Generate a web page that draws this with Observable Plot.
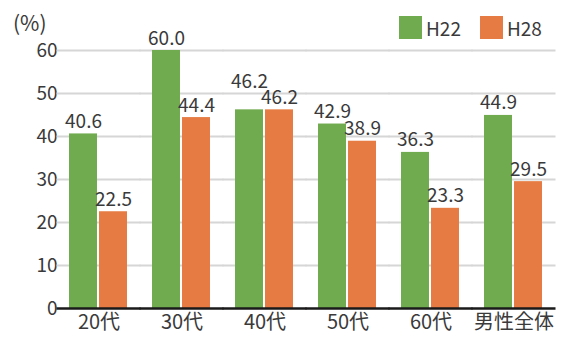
<!DOCTYPE html>
<html><head><meta charset="utf-8">
<script src="https://cdn.jsdelivr.net/npm/d3@7"></script>
<script src="https://cdn.jsdelivr.net/npm/@observablehq/plot@0.6"></script>
<style>
body{margin:0;background:#fff;}
#wrap{position:relative;width:561px;height:338px;}
.overlay{position:absolute;font-family:"Noto Sans CJK JP",sans-serif;font-size:19px;color:#3a3a3a;line-height:1;}
#legend{top:16px;left:399px;display:flex;align-items:center;}
#legend .sw{display:inline-block;width:23px;height:23px;margin-right:4px;}
#legend .lb{margin-right:19px;}
#ylabel{top:12px;left:13px;font-size:21px;}
</style></head>
<body><div id="wrap"></div>
<script>
const categories = ["20代","30代","40代","50代","60代","男性全体"];
const series = ["H22","H28"];
const h22 = [40.6, 60.0, 46.2, 42.9, 36.3, 44.9];
const h28 = [22.5, 44.4, 46.2, 38.9, 23.3, 29.5];
const yTicks = [0, 10, 20, 30, 40, 50, 60];
const colors = ["#71AB4F", "#E67C43"];
const yLabel = "(%)";

const data = categories.flatMap((c, i) => [
  {category: c, series: series[0], value: h22[i], lift: Math.abs(h22[i] - h28[i]) < 3},
  {category: c, series: series[1], value: h28[i], lift: false}
]);

const font = '"Noto Sans CJK JP",sans-serif';
const ext = -12.5; // extend per-facet rules over the gaps between groups
const label = d => d.value.toFixed(1);
const plot = Plot.plot({
  width: 561, height: 338,
  marginLeft: 55, marginRight: 3, marginTop: 50, marginBottom: 30,
  style: {fontFamily: font, fontSize: "19px", color: "#3a3a3a", background: "white", overflow: "visible"},
  fx: {domain: categories, paddingInner: 0.2857, paddingOuter: 0.1429, label: null, axis: "bottom", tickSize: 0, tickPadding: 6},
  x: {domain: series, axis: null, paddingInner: 0.065, paddingOuter: 0},
  y: {domain: [0, 60], ticks: yTicks, label: null, tickSize: 0, tickPadding: 12, tickFormat: d => d},
  color: {domain: series, range: colors},
  marks: [
    Plot.ruleY(yTicks.filter(d => d > 0), {stroke: "#d6d6d6", strokeWidth: 2, insetLeft: ext, insetRight: ext}),
    Plot.barY(data, {fx: "category", x: "series", y: "value", fill: "series"}),
    Plot.text(data.filter(d => !d.lift), {fx: "category", x: "series", y: "value", text: label, lineAnchor: "bottom", dy: -6, fill: "#3a3a3a", fontSize: 19}),
    Plot.text(data.filter(d => d.lift), {fx: "category", x: "series", y: "value", text: label, lineAnchor: "bottom", dy: -22, fill: "#3a3a3a", fontSize: 19}),
    Plot.ruleY([0], {stroke: "#1a1a1a", strokeWidth: 2.5, insetLeft: ext, insetRight: ext})
  ]
});

const wrap = document.getElementById("wrap");
wrap.appendChild(plot);
// category tick labels contain CJK glyphs, which are set slightly larger
d3.select(plot).selectAll("[aria-label='fx-axis tick label'] text, g[aria-label='fx-axis'] text").style("font-size", "20px");

const color = plot.scale("color");
const legend = document.createElement("div");
legend.id = "legend";
legend.className = "overlay";
series.forEach(s => {
  const sw = document.createElement("span");
  sw.className = "sw";
  sw.style.background = color.apply(s);
  const lb = document.createElement("span");
  lb.className = "lb";
  lb.textContent = s;
  legend.appendChild(sw);
  legend.appendChild(lb);
});
wrap.appendChild(legend);

const yl = document.createElement("div");
yl.id = "ylabel";
yl.className = "overlay";
yl.textContent = yLabel;
wrap.appendChild(yl);
</script>
</body></html>
